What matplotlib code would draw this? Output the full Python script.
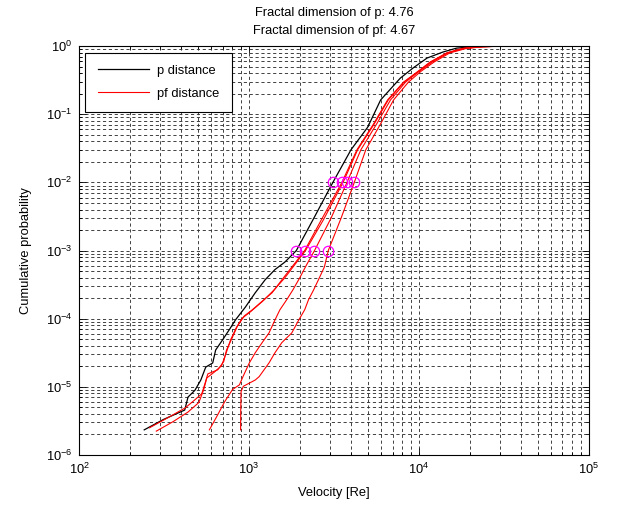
import numpy as np
import matplotlib
matplotlib.use("Agg")
import matplotlib.pyplot as plt
from matplotlib.ticker import FixedLocator, NullFormatter

plt.rcParams['font.family'] = ['Liberation Sans', 'DejaVu Sans']
plt.rcParams['mathtext.fontset'] = 'custom'
plt.rcParams['mathtext.rm'] = 'Liberation Sans'
plt.rcParams['axes.unicode_minus'] = False

# p distance (black)
p_vel = [242, 313, 419, 438, 481, 521, 557, 612, 637, 700, 767, 832, 953, 1089,
         1245, 1422, 1626, 1901, 2427, 3119, 3990, 5000, 5957, 7780, 9268, 11170,
         13840, 16670, 21380, 26000]
p_prob = [2.34e-6, 3.31e-6, 4.57e-6, 7.08e-6, 8.91e-6, 1.26e-5, 1.95e-5, 2.24e-5,
          3.47e-5, 4.90e-5, 6.92e-5, 9.55e-5, 1.48e-4, 2.40e-4, 3.72e-4, 5.25e-4,
          6.76e-4, 1.0e-3, 3.09e-3, 1.0e-2, 3.02e-2, 6.46e-2, 0.162, 0.339, 0.479,
          0.667, 0.817, 0.933, 0.984, 1.0]

# pf distance (red), four runs
pf1_vel = [260, 335, 421, 481, 528, 550, 573, 655, 710, 738, 800, 855, 940, 1047,
           1164, 1368, 1563, 1791, 2128, 2667, 3524, 4325, 5358, 6546, 8110, 9772,
           11640, 14590, 18110, 22750, 32210]
pf1_prob = [2.51e-6, 3.55e-6, 4.90e-6, 6.46e-6, 7.94e-6, 1.10e-5, 1.55e-5, 1.78e-5,
            2.34e-5, 3.47e-5, 5.37e-5, 7.76e-5, 1.10e-4, 1.35e-4, 1.70e-4, 2.40e-4,
            3.72e-4, 5.75e-4, 1e-3, 2.82e-3, 1e-2, 3.02e-2, 6.92e-2, 0.162, 0.295,
            0.417, 0.582, 0.794, 0.925, 0.977, 1.0]

pf2_vel = [285, 358, 438, 507, 542, 565, 628, 690, 728, 780, 843, 914, 1019, 1197,
           1403, 1626, 1858, 2153, 2742, 3581, 4365, 5408, 6607, 8166, 9840, 11700,
           14660, 18200, 22900, 32210]
pf2_prob = [2.24e-6, 3.09e-6, 4.27e-6, 5.89e-6, 9.12e-6, 1.35e-5, 1.66e-5, 2.04e-5,
            2.95e-5, 4.90e-5, 7.41e-5, 1.02e-4, 1.26e-4, 1.78e-4, 2.63e-4, 3.98e-4,
            6.17e-4, 1e-3, 2.82e-3, 1e-2, 3.02e-2, 6.92e-2, 0.162, 0.295, 0.417,
            0.582, 0.794, 0.925, 0.977, 1.0]

pf3_vel = [585, 655, 719, 800, 879, 927, 1005, 1089, 1197, 1312, 1422, 1521, 1671,
           1811, 1991, 2183, 2432, 3048, 3776, 4560, 5649, 6808, 8337, 10050, 11970,
           14830, 18620, 23330, 32210]
pf3_prob = [2.34e-6, 3.89e-6, 6.03e-6, 9.12e-6, 1.07e-5, 1.45e-5, 2.24e-5, 3.16e-5,
            4.47e-5, 6.17e-5, 9.55e-5, 1.35e-4, 1.91e-4, 2.63e-4, 3.98e-4, 6.17e-4,
            1e-3, 3.02e-3, 1e-2, 3.02e-2, 7.24e-2, 0.162, 0.295, 0.427, 0.582, 0.794,
            0.925, 0.977, 1.0]

pf4_vel = [893, 895, 899, 927, 1089, 1148, 1312, 1422, 1563, 1786, 1963, 2128, 2244,
           2399, 2564, 2780, 2931, 3491, 4169, 4875, 5957, 7096, 8670, 10300, 12270,
           15210, 19100, 23990, 32210]
pf4_prob = [2.34e-6, 4.57e-6, 8.51e-6, 1.02e-5, 1.26e-5, 1.41e-5, 2.24e-5, 3.16e-5,
            4.47e-5, 6.17e-5, 9.55e-5, 1.35e-4, 1.91e-4, 2.63e-4, 3.72e-4, 5.75e-4,
            1e-3, 3.02e-3, 1e-2, 3.02e-2, 7.24e-2, 0.162, 0.295, 0.427, 0.582, 0.794,
            0.925, 0.977, 1.0]

# fit points (magenta circles)
mark_vel = [1900, 2130, 2430, 2930, 3120, 3530, 3780, 4170]
mark_prob = [1e-3, 1e-3, 1e-3, 1e-3, 1e-2, 1e-2, 1e-2, 1e-2]

dim_p = 4.76
dim_pf = 4.67

x_ticks = [1e2, 1e3, 1e4, 1e5]
y_ticks = [1e-6, 1e-5, 1e-4, 1e-3, 1e-2, 1e-1, 1e0]

fig = plt.figure(figsize=(6.24, 5.08), dpi=100)
ax = fig.add_axes([0.1266, 0.1043, 0.817, 0.805])

ax.loglog(p_vel, p_prob, color='k', lw=0.9, label='p distance')
ax.loglog(pf1_vel, pf1_prob, color='r', lw=0.8, label='pf distance')
ax.loglog(pf2_vel, pf2_prob, color='r', lw=0.8)
ax.loglog(pf3_vel, pf3_prob, color='r', lw=0.8)
ax.loglog(pf4_vel, pf4_prob, color='r', lw=0.8)
ax.plot(mark_vel, mark_prob, 'o', ls='none', mfc='none', mec='#ff00ff',
        ms=7.5, mew=0.9)

ax.set_xlim(1e2, 1e5)
ax.set_ylim(1e-6, 1e0)
ax.set_xticks(x_ticks)
ax.set_yticks(y_ticks)
x_minor = [m * 10.0 ** e for e in range(2, 5) for m in range(2, 10)]
y_minor = [m * 10.0 ** e for e in range(-6, 0) for m in range(2, 10)]
ax.xaxis.set_minor_locator(FixedLocator(x_minor))
ax.yaxis.set_minor_locator(FixedLocator(y_minor))
ax.xaxis.set_minor_formatter(NullFormatter())
ax.yaxis.set_minor_formatter(NullFormatter())

ax.grid(True, which='both', color='0.2', lw=0.65, linestyle=(0, (3.5, 3)))
ax.tick_params(which='both', direction='in', top=True, right=True,
               labelsize=9.3, width=0.6)
ax.tick_params(which='major', length=5, pad=5)
ax.tick_params(which='minor', length=2.5)
for s in ax.spines.values():
    s.set_linewidth(0.8)

ax.set_xlabel('Velocity [Re]', fontsize=9.3, labelpad=7)
ax.set_ylabel('Cumulative probability', fontsize=9.3, labelpad=10)
ax.set_title('Fractal dimension of p: %.2f\nFractal dimension of pf: %.2f' % (dim_p, dim_pf),
             fontsize=9.3, linespacing=1.6, pad=9)

leg = ax.legend(loc='upper left', fontsize=9.3, fancybox=False, framealpha=1,
                edgecolor='k', borderaxespad=0.5, handlelength=4.0,
                borderpad=0.95, labelspacing=0.85, handletextpad=0.6)
leg.get_frame().set_linewidth(0.8)

fig.savefig('out.png', dpi=100)
